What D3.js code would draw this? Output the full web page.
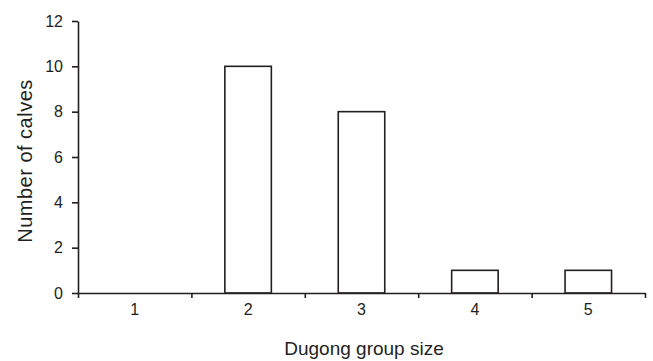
<!DOCTYPE html>
<html>
<head>
<meta charset="utf-8">
<script src="https://cdn.jsdelivr.net/npm/d3@7"></script>
<style>
  body { margin: 0; background: #fff; }
  text { font-family: "Liberation Sans", Arial, sans-serif; fill: #231f20; }
</style>
</head>
<body>
<div id="chart"></div>
<script>
// group sizes and calf counts
const groupSizes = ["1", "2", "3", "4", "5"];
const calves = [0, 10, 8, 1, 1];
const yTicks = [0, 2, 4, 6, 8, 10, 12];

const width = 653, height = 361;
const margin = {top: 21, right: 8, bottom: 68, left: 78};
const ink = "#231f20";

const svg = d3.select("#chart")
    .append("svg")
    .attr("width", width)
    .attr("height", height);

const g = svg.append("g")
    .attr("transform", "translate(" + margin.left + "," + margin.top + ")");

const w = width - margin.left - margin.right;
const h = height - margin.top - margin.bottom;

let x = d3.scaleBand().domain(groupSizes).range([0, w]).paddingInner(0.59).paddingOuter(0.295);
let xb = d3.scaleLinear().domain([0, groupSizes.length]).range([0, w]);
let y = d3.scaleLinear().domain([0, 12]).range([h, 0]);

// bars
g.selectAll(".bar")
    .data(calves)
    .enter().append("rect")
    .attr("class", "bar")
    .attr("x", (d, i) => x(groupSizes[i]))
    .attr("width", x.bandwidth())
    .attr("y", d => y(d))
    .attr("height", d => h - y(d))
    .attr("fill", "#fff")
    .attr("stroke", ink)
    .attr("stroke-width", 1.6);

// x axis: boundary ticks
let xAxis = g.append("g")
    .attr("transform", "translate(0," + h + ")")
    .call(d3.axisBottom(xb).tickValues(d3.range(0, groupSizes.length + 1)).tickFormat("").tickSize(5).tickSizeOuter(0));
xAxis.selectAll("line, path").attr("stroke", ink).attr("stroke-width", 1.6);

// x labels at band centres
let xLab = g.append("g")
    .attr("transform", "translate(0," + h + ")")
    .call(d3.axisBottom(x).tickSize(0).tickPadding(11));
xLab.select(".domain").remove();
xLab.selectAll("text").style("font-size", "16px").attr("fill", ink);

// y axis
let yAxis = g.append("g")
    .call(d3.axisLeft(y).tickValues(yTicks).tickSize(6).tickSizeOuter(0).tickPadding(9));
yAxis.selectAll("line, path").attr("stroke", ink).attr("stroke-width", 1.6);
yAxis.selectAll("text").style("font-size", "16px").attr("fill", ink);

// axis titles
svg.append("text")
    .attr("x", 364)
    .attr("y", 355)
    .attr("text-anchor", "middle")
    .style("font-size", "19px")
    .text("Dugong group size");

svg.append("text")
    .attr("transform", "translate(32,161) rotate(-90)")
    .attr("text-anchor", "middle")
    .style("font-size", "20px")
    .style("letter-spacing", "0.5px")
    .text("Number of calves");
</script>
</body>
</html>
